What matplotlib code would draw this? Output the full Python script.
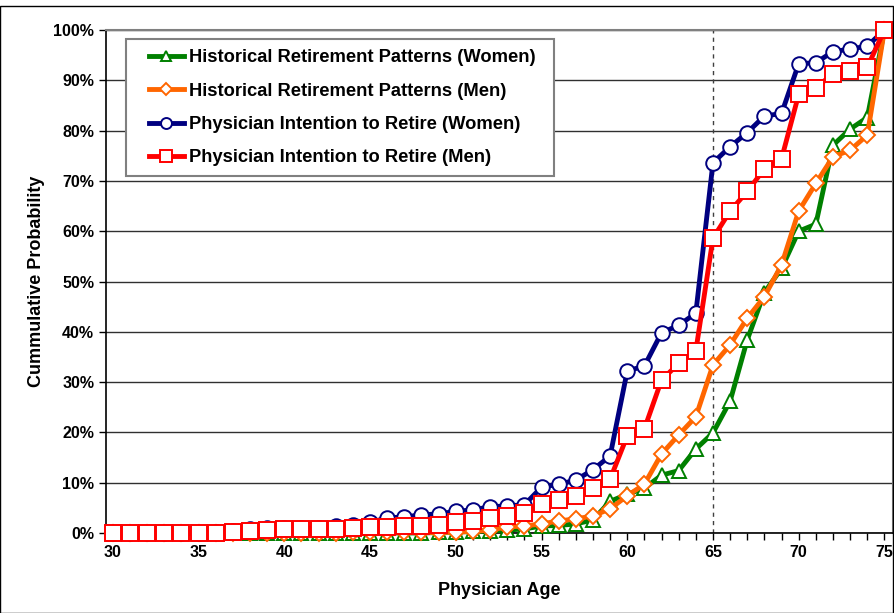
import matplotlib
matplotlib.use("Agg")
import matplotlib.pyplot as plt
from matplotlib.ticker import MultipleLocator, FuncFormatter
from matplotlib.patches import Rectangle

plt.rcParams['font.family'] = ['Liberation Sans', 'DejaVu Sans']
plt.rcParams['font.weight'] = 'bold'

ages = list(range(30, 76))

women_hist = [0] * 19 + [0.1, 0.2, 0.3, 0.4, 0.6, 0.8, 1.4, 1.5, 1.8, 2.6, 6.3, 7.7, 8.9,
                         11.5, 12.4, 16.7, 19.9, 26.2, 38.4, 47.8, 52.6, 60.0, 61.4, 77.1,
                         80.3, 82.6, 100.0]
men_hist = [0] * 14 + [0.1, 0.1, 0.1, 0.1, 0.1, 0.1, 0.2, 0.3, 0.6, 1.2, 1.4, 1.8, 2.4, 2.8,
                       3.4, 4.8, 7.4, 9.7, 15.7, 19.5, 23.1, 33.4, 37.4, 42.7, 47.0, 53.3,
                       64.0, 69.5, 74.8, 76.1, 79.1, 100.0]
women_intent = [0] * 6 + [0.2, 0.4, 0.7, 0.9, 0.9, 0.9, 1.0, 1.4, 1.5, 2.1, 3.0, 3.2, 3.6,
                          3.8, 4.3, 4.6, 5.2, 5.4, 5.6, 9.1, 9.7, 10.5, 12.6, 15.3, 32.2,
                          33.2, 39.8, 41.3, 43.7, 73.6, 76.8, 79.6, 82.9, 83.4, 93.3, 93.5,
                          95.7, 96.2, 96.8, 100.0]
men_intent = [0] * 7 + [0.2, 0.3, 0.5, 0.7, 0.7, 0.8, 0.8, 0.9, 1.1, 1.1, 1.3, 1.3, 1.5, 2.1,
                        2.3, 2.9, 3.4, 3.9, 5.8, 6.6, 7.4, 8.9, 10.7, 19.3, 20.7, 30.4, 33.7,
                        36.2, 58.6, 64.0, 67.9, 72.4, 74.4, 87.2, 88.5, 91.3, 91.8, 92.6,
                        100.0]

series = [
    ("Historical Retirement Patterns (Women)", women_hist, "#008000", "^", 10),
    ("Historical Retirement Patterns (Men)", men_hist, "#FF6600", "D", 8),
    ("Physician Intention to Retire (Women)", women_intent, "#000080", "o", 10.5),
    ("Physician Intention to Retire (Men)", men_intent, "#FF0000", "s", 11),
]

W, H = 895, 613
fig = plt.figure(figsize=(W / 100, H / 100), dpi=100)
ax = fig.add_axes([106 / W, 1 - 533 / H, (893 - 106) / W, (533 - 30) / H])


def px_axes(x, y):
    """Pixel position (from the top-left of the figure) to axes fraction."""
    return (x - 106) / (893 - 106), (533 - y) / (533 - 30)


# outer chart frame
fig.patches.append(Rectangle((0.5 / W, 0.5 / H), (W - 2) / W, (H - 6) / H,
                             transform=fig.transFigure, fill=False,
                             edgecolor="black", linewidth=1.0))

for i, (label, vals, color, marker, ms) in enumerate(series):
    ax.plot(ages, vals, color=color, lw=3.5, marker=marker, markersize=ms,
            markerfacecolor="white", markeredgecolor=color, markeredgewidth=1.4,
            label=label, clip_on=False, zorder=3 + i)

ax.axvline(65, color="#404040", lw=1.0, ls=(0, (3, 3)), zorder=2)

ax.set_xlim(29.6, 75.5)
ax.set_ylim(0, 100)
ax.xaxis.set_major_locator(MultipleLocator(5))
ax.xaxis.set_minor_locator(MultipleLocator(1))
ax.yaxis.set_major_locator(MultipleLocator(10))
ax.yaxis.set_major_formatter(FuncFormatter(lambda v, p: f"{v:.0f}%"))
ax.grid(axis="y", color="#303030", lw=1.0, zorder=1)
ax.set_axisbelow(True)

ax.tick_params(axis="both", which="major", labelsize=11.5, direction="out",
               length=5, width=1, color="black")
ax.tick_params(axis="x", which="minor", direction="out", length=5, width=1)
for lab in ax.get_xticklabels() + ax.get_yticklabels():
    lab.set_fontweight("bold")

for s in ("left", "bottom"):
    ax.spines[s].set_color("black")
    ax.spines[s].set_linewidth(1.2)
for s in ("top", "right"):
    ax.spines[s].set_color("#808080")
    ax.spines[s].set_linewidth(1.5)

ax.set_xlabel("Physician Age", fontsize=13, fontweight="bold", labelpad=16)
ax.set_ylabel("Cummulative Probability", fontsize=13, fontweight="bold", labelpad=6)

# legend frame drawn separately so the inner padding can be set per side
fx0, fy0 = px_axes(126, 176)
fx1, fy1 = px_axes(554, 39)
ax.add_patch(Rectangle((fx0, fy0), fx1 - fx0, fy1 - fy0, transform=ax.transAxes,
                       facecolor="white", edgecolor="#808080", linewidth=1.5,
                       zorder=9, clip_on=False))

lx, ly = px_axes(149, 49)
leg = ax.legend(loc="upper left", bbox_to_anchor=(lx, ly), fontsize=13.2,
                frameon=False, handlelength=1.9, labelspacing=0.9, borderpad=0,
                handletextpad=0.3, borderaxespad=0, markerscale=0.75)
for t in leg.get_texts():
    t.set_fontweight("bold")
leg.set_zorder(10)

fig.savefig("out.png", dpi=100)
